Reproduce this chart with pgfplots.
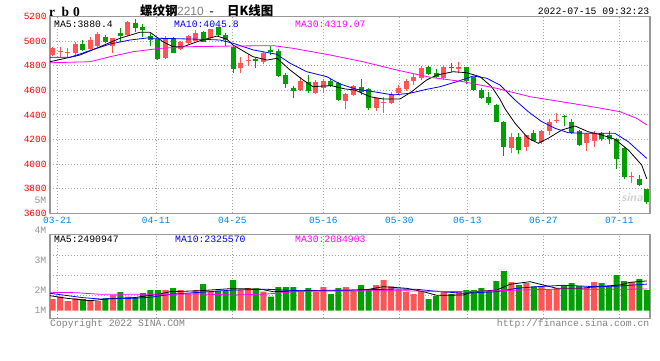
\documentclass[border=0pt]{standalone}
\usepackage{pgfplots}
\pgfplotsset{compat=1.18}
\usepackage{pgfplotstable}
\usepackage{fontspec}
\setmainfont{Liberation Sans}
\setmonofont{Liberation Mono}
\newfontfamily\cjk{Noto Sans CJK SC}
\newfontfamily\serifb{Liberation Serif Bold}
\definecolor{kred}{RGB}{255,85,85}
\definecolor{kgreen}{RGB}{0,160,0}
\definecolor{maten}{RGB}{0,0,255}
\definecolor{mathirty}{RGB}{255,0,255}
\definecolor{gridc}{RGB}{165,165,165}
\definecolor{framec}{RGB}{153,153,153}
\definecolor{datec}{RGB}{0,128,230}
\definecolor{txtgray}{RGB}{128,128,128}
\definecolor{lblgray}{RGB}{150,150,150}

\pgfplotstableread{
i o h l c v
0 4889 4950 4880 4943 1.585
1 4915 4954 4873 4922 1.70
2 4905 4940 4873 4912 1.485
3 4901 4990 4870 4974 1.62
5 4933 5030 4925 5012 1.535
6 4958 5075 4950 5060 1.485
8 4963 5028 4905 5025 1.785
10 5050 5160 5045 5157 1.70
15 4865 5040 4858 5025 2.035
17 4935 5000 4925 4993 2.035
18 4985 5050 4980 5045 1.87
19 5003 5090 4998 5062 2.035
21 5023 5100 5015 5096 1.95
25 4781 4868 4738 4825 2.035
26 4842 4895 4800 4850 2.135
28 4833 4910 4810 4906 1.95
33 4602 4710 4598 4676 1.985
35 4576 4685 4570 4665 1.935
36 4617 4690 4578 4676 2.185
39 4515 4580 4448 4570 2.185
40 4562 4645 4555 4635 1.985
43 4459 4540 4432 4535 2.285
44 4498 4548 4418 4506 2.535
45 4499 4585 4490 4567 2.22
46 4576 4640 4560 4621 2.07
47 4610 4690 4597 4675 1.935
48 4675 4732 4643 4710 1.835
49 4702 4800 4680 4784 1.985
52 4697 4800 4680 4792 1.985
54 4771 4830 4740 4792 1.985
61 4133 4250 4088 4223 2.435
63 4141 4240 4110 4236 2.385
65 4177 4280 4160 4272 2.22
66 4272 4365 4240 4340 2.07
67 4348 4413 4332 4358 2.135
71 4174 4250 4110 4242 2.135
72 4190 4270 4140 4256 2.435
77 3895 3938 3845 3903 2.435
}\upk

\pgfplotstableread{
i o h l c v
4 4976 5009 4920 4928 1.585
7 5031 5050 4985 4990 1.62
9 5068 5104 4995 5044 1.935
11 5145 5180 5070 5108 1.67
12 5118 5140 5030 5090 1.885
13 5040 5065 4960 5005 2.035
14 5015 5020 4850 4858 2.035
16 5025 5030 4900 4905 2.135
20 5076 5085 4990 4995 2.335
22 5112 5115 5045 5050 2.00
23 5050 5065 4960 5010 1.985
24 4955 4960 4740 4770 2.535
27 4858 4862 4780 4840 2.12
29 4925 4960 4890 4915 1.70
30 4920 4935 4712 4720 2.185
31 4724 4740 4617 4650 2.185
32 4622 4636 4535 4595 2.185
34 4670 4724 4576 4595 2.135
37 4675 4690 4625 4638 1.835
38 4657 4665 4515 4521 2.135
41 4624 4692 4562 4584 2.285
42 4610 4618 4440 4458 2.07
50 4792 4800 4725 4732 1.585
51 4743 4770 4700 4705 1.735
53 4786 4820 4745 4778 1.835
55 4787 4792 4648 4676 2.035
56 4706 4710 4595 4603 2.035
57 4602 4620 4530 4540 2.135
58 4543 4590 4480 4494 1.985
59 4480 4485 4340 4345 2.485
60 4345 4350 4068 4141 2.985
62 4223 4250 4080 4115 2.285
64 4256 4275 4185 4190 2.22
68 4390 4400 4310 4381 2.285
69 4345 4370 4245 4250 2.385
70 4272 4280 4150 4157 2.235
73 4250 4260 4190 4202 2.385
74 4236 4272 4161 4202 2.22
75 4202 4210 3960 4041 2.785
76 4133 4140 3879 3898 2.485
78 3879 3915 3820 3830 2.585
79 3795 3800 3676 3694 2.035
}\dnk

\begin{document}
\begin{tikzpicture}[x=1bp,y=1bp]
\useasboundingbox (0,0) rectangle (660,360);

\pgfplotsset{
  kbase/.style={
    scale only axis, anchor=south west, width=600bp,
    xmin=-0.36, xmax=79.43,
    axis line style={framec, line width=1.2bp},
    xtick={0.61,13.74,23.88,35.98,46.09,55.13,65.24,75.35},
    major tick length=0pt,
    grid=major,
    major grid style={gridc, line width=1bp, dash pattern=on 1bp off 2bp},
    tick label style={font=\ttfamily\fontsize{9.5}{10}\selectfont},
  }
}

% ---------- price panel ----------
\begin{axis}[kbase,
  at={(50bp,146.7bp)}, height=196.8bp,
  ymin=3600, ymax=5200,
  xticklabels={03-21,04-11,04-25,05-16,05-30,06-13,06-27,07-11},
  xticklabel style={text=datec},
  ytick={3600,3800,4000,4200,4400,4600,4800,5000,5200},
  yticklabels={3600,3800,4000,4200,4400,4600,4800,5000,5200},
  yticklabel style={text=red},
]
\addplot[kred, line width=1bp, quiver={u=0,v=\thisrow{h}-\thisrow{l}}] table[x=i,y=l]{\upk};
\addplot[kgreen, line width=1bp, quiver={u=0,v=\thisrow{h}-\thisrow{l}}] table[x=i,y=l]{\dnk};
\addplot[kred, line width=5bp, quiver={u=0,v=\thisrow{c}-\thisrow{o}}] table[x=i,y=o]{\upk};
\addplot[kgreen, line width=5bp, quiver={u=0,v=\thisrow{c}-\thisrow{o}}] table[x=i,y=o]{\dnk};

\addplot[black, line width=0.8bp] coordinates {(-0.36,4832)(3.63,4887)(6.29,4954)(8.95,5023)(11.61,5072)(12.94,5072)(14.67,4995)(16.0,4954)(17.33,4954)(19.59,5003)(21.85,5041)(23.18,5015)(23.98,4968)(26.64,4873)(28.5,4846)(29.83,4860)(31.56,4765)(33.29,4684)(34.62,4629)(35.95,4635)(37.1,4637)(38.87,4611)(40.2,4602)(42.19,4548)(43.96,4529)(46.18,4529)(47.74,4589)(49.73,4684)(51.06,4724)(53.27,4751)(55.05,4743)(56.82,4711)(58.38,4629)(59.48,4527)(60.15,4450)(61.48,4332)(63.24,4210)(64.57,4169)(65.9,4210)(67.69,4277)(69.45,4310)(71.22,4263)(73.0,4237)(74.77,4202)(76.54,4115)(78.32,3993)(79,3880)};
\addplot[maten, line width=0.8bp] coordinates {(-0.36,4868)(2.3,4868)(4.52,4914)(7.62,4976)(10.28,5009)(12.5,5025)(19.59,5015)(22.25,5009)(24.02,4982)(26.68,4928)(29.79,4893)(31.56,4820)(33.78,4751)(36.44,4711)(38.2,4651)(40.43,4608)(42.63,4589)(45.29,4562)(47.51,4576)(49.73,4608)(51.5,4629)(53.72,4670)(55.93,4716)(57.71,4698)(59.48,4643)(61.48,4521)(63.24,4426)(65.03,4345)(66.8,4291)(68.56,4255)(71.22,4250)(74.77,4250)(76.54,4182)(79,4046)};
\addplot[mathirty, line width=0.8bp] coordinates {(-0.36,4824)(4.96,4832)(7.62,4873)(10.72,4914)(14.27,4941)(17.82,4954)(24.02,4960)(29.34,4963)(32.0,4941)(36.88,4887)(41.3,4832)(45.74,4765)(50.17,4706)(54.6,4670)(59.04,4616)(63.47,4548)(67.9,4505)(72.34,4460)(75.44,4426)(77.66,4372)(79,4319)};
\end{axis}

% ---------- volume panel ----------
\begin{axis}[kbase,
  at={(50bp,41.7bp)}, height=84bp,
  ymin=-0.38, ymax=3.82,
  y filter/.expression={y-1},
  xticklabels={},
  ytick={0.785,1.785,2.785},
  yticklabels={},
]
\addplot[ybar, bar width=0.8, bar shift=0pt, fill=kred, draw=none] table[x=i,y=v]{\upk};
\addplot[ybar, bar width=0.8, bar shift=0pt, fill=kgreen, draw=none] table[x=i,y=v]{\dnk};
\addplot[black, line width=0.8bp] coordinates {(-0.36,1.75)(1.86,1.62)(4.96,1.50)(7.62,1.60)(10.72,1.65)(14.27,1.835)(15.6,1.95)(19.59,2.0)(23.58,2.10)(27.57,2.085)(29.34,1.95)(32.89,2.0)(36.88,2.02)(38.64,2.02)(41.76,2.05)(43.96,2.2)(47.07,2.12)(49.28,1.95)(51.06,1.77)(54.6,1.785)(55.93,1.95)(59.04,2.035)(60.81,2.32)(63.47,2.45)(65.24,2.285)(67.02,2.12)(70.12,2.12)(72.34,2.2)(75.44,2.285)(76.77,2.42)(79,2.49)};
\addplot[maten, line width=0.8bp] coordinates {(-0.36,1.87)(4.07,1.65)(6.29,1.585)(10.72,1.62)(12.94,1.67)(16.04,1.835)(19.59,1.92)(24.02,2.035)(28.46,2.07)(32.89,2.0)(36.88,2.0)(45.74,2.085)(48.4,2.07)(51.06,1.97)(54.6,1.87)(59.04,1.95)(61.7,2.12)(64.36,2.2)(67.9,2.27)(72.34,2.2)(75.44,2.235)(79,2.33)};
\addplot[mathirty, line width=0.8bp] coordinates {(-0.36,1.92)(3.19,1.90)(6.29,1.82)(12.94,1.82)(19.59,1.835)(24.02,1.785)(28.46,1.835)(32.89,1.97)(36.88,1.985)(45.74,2.0)(54.6,1.95)(62.58,2.035)(67.9,2.085)(75.0,2.07)(79,2.085)};
\end{axis}

% ---------- texts ----------
\tikzset{tt/.style={inner sep=0pt, font=\ttfamily\fontsize{9.8}{10}\selectfont}}
\foreach \ch/\xx in {r/49, b/61.5, 0/73}
  \node[anchor=base west, inner sep=0pt, font=\serifb\fontsize{13.5}{14}\selectfont] at (\xx,344) {\ch};
\node[anchor=base west, inner sep=0pt] at (140,344.5) {\cjk\bfseries\fontsize{12.5}{13}\selectfont 螺纹钢};
\node[anchor=base west, inner sep=0pt, text=txtgray] at (177,344.5) {\fontsize{12}{13}\selectfont 2210};
\node[anchor=base west, inner sep=0pt] at (208,344.5) {\ttfamily\fontsize{12}{13}\selectfont -};
\node[anchor=base west, inner sep=0pt] at (227,344.5) {\cjk\bfseries\fontsize{12.5}{13}\selectfont 日K线图};
\node[tt, anchor=east] at (649.5,348.3) {2022-07-15 09:32:23};

\node[tt, anchor=west] at (54,336) {MA5:3880.4};
\node[tt, anchor=west, text=maten] at (174,336) {MA10:4045.8};
\node[tt, anchor=west, text=mathirty] at (295,336) {MA30:4319.07};

\node[tt, anchor=west] at (54,121) {MA5:2490947};
\node[tt, anchor=west, text=maten] at (175,121) {MA10:2325570};
\node[tt, anchor=west, text=mathirty] at (295,121) {MA30:2084903};

\node[tt, anchor=east, text=lblgray] at (46.5,160) {5M};
\node[tt, anchor=east, text=lblgray] at (46.5,130) {4M};
\node[tt, anchor=east, text=lblgray] at (46.5,99.3) {3M};
\node[tt, anchor=east, text=lblgray] at (46.5,69.3) {2M};
\node[tt, anchor=east, text=lblgray] at (46.5,49.3) {1M};

\node[tt, anchor=west, text=txtgray] at (50,36) {Copyright 2022 SINA.COM};
\node[tt, anchor=east, text=txtgray] at (649.5,36) {http://finance.sina.com.cn};

\node[inner sep=0pt, text=black!18, font=\sffamily\bfseries\itshape\fontsize{12}{12}\selectfont] at (632,162) {sina};
\end{tikzpicture}
\end{document}
